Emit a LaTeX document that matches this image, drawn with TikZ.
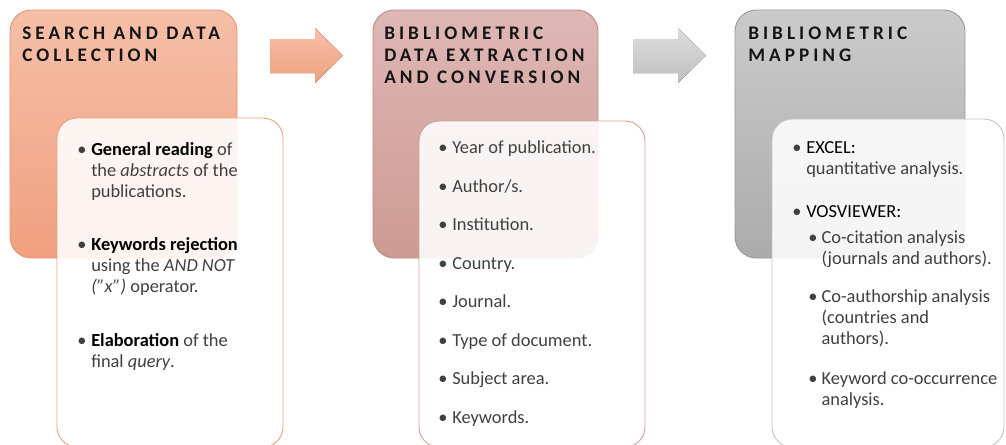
\documentclass[tikz,border=0pt]{standalone}
\usepackage{fontspec}
\usepackage{xcolor}
\usepackage{tikz}
\setmainfont{Carlito}
\newfontfamily\headfamily[LetterSpace=21]{Carlito}

\definecolor{salmonTop}{HTML}{F5BFA8}
\definecolor{salmonBot}{HTML}{F0A080}
\definecolor{salmonLine}{HTML}{E39476}
\definecolor{salmonPanel}{HTML}{EBA27F}
\definecolor{roseTop}{HTML}{DEB7B4}
\definecolor{roseBot}{HTML}{CD9A95}
\definecolor{roseLine}{HTML}{BE8C87}
\definecolor{rosePanel}{HTML}{D3A29D}
\definecolor{greyTop}{HTML}{CBCBCB}
\definecolor{greyBot}{HTML}{ABABAB}
\definecolor{greyLine}{HTML}{9A9A9A}
\definecolor{greyPanel}{HTML}{C4C4C4}
\definecolor{headInk}{HTML}{141414}
\definecolor{bodyInk}{HTML}{404040}

% bullet with hanging lines: #1 indent, #2 lines
\newcommand{\bul}[2]{\makebox[#1][l]{\textbullet}\parbox[t]{190pt}{\raggedright\leavevmode #2}}
\newcommand{\dark}[1]{{\color{black}#1}}

\begin{document}
\begin{tikzpicture}[
  x=0.75pt, y=-0.75pt,
  stage/.style={rounded corners=16pt, line width=0.7pt},
  panel/.style={rounded corners=15pt, fill=white, fill opacity=0.88, line width=0.7pt},
  title/.style={anchor=base west, inner sep=0pt, align=left, text=headInk,
    font=\headfamily\bfseries\fontsize{14.4}{16.5}\selectfont},
  item/.style={anchor=base west, inner sep=0pt, text=bodyInk,
    font=\fontsize{13.8}{16.1}\selectfont}
]
\useasboundingbox (0,0) rectangle (1006,444);
\clip (0,0) rectangle (1006,444);

% stage boxes
\draw[stage, draw=salmonLine, top color=salmonTop, bottom color=salmonBot] (10,10) rectangle (237,258);
\draw[stage, draw=roseLine, top color=roseTop, bottom color=roseBot] (373,10) rectangle (598,258);
\draw[stage, draw=greyLine, top color=greyTop, bottom color=greyBot] (735,10) rectangle (965,258);

% block arrows
\fill[top color=salmonTop, bottom color=salmonBot]
  (270,39) -- (315,39) -- (315,28) -- (343,55.5) -- (315,83) -- (315,73) -- (270,73) -- cycle;
\fill[top color=black!13, bottom color=black!25]
  (633,39) -- (678,39) -- (678,28) -- (706,55.5) -- (678,83) -- (678,73) -- (633,73) -- cycle;

% detail panels
\draw[panel, draw=salmonPanel] (57,118) rectangle (283,447);
\draw[panel, draw=rosePanel] (419,121) rectangle (645,447);
\draw[panel, draw=greyPanel] (772,119) rectangle (1004,447);

% titles (base = last line)
\node[title] (t1) at (22,61) {SEARCH AND DATA\\COLLECTION};
\node[title] (t2) at (384,83) {BIBLIOMETRIC\\DATA EXTRACTION\\AND CONVERSION};
\node[title] (t3) at (748,61) {BIBLIOMETRIC\\MAPPING};

% search and data collection
\node[item] (s1) at (77,155) {\bul{10.5pt}{\dark{\textbf{General reading}} of\\the \textit{abstracts} of the\\publications.}};
\node[item] (s2) at (77,250) {\bul{10.5pt}{\dark{\textbf{Keywords rejection}}\\using the \textit{AND NOT}\\\textit{(”x”)} operator.}};
\node[item] (s3) at (77,346) {\bul{10.5pt}{\dark{\textbf{Elaboration}} of the\\final \textit{query}.}};

% data extraction
\foreach \txt [count=\i] in {Year of publication., Author/s., Institution., Country., Journal.,
    Type of document., Subject area., Keywords.}
  \node[item] (d\i) at (438,{153.5+38.5*(\i-1)}) {\bul{10.5pt}{\txt}};

% mapping
\node[item] (m1) at (792,153) {\bul{10.5pt}{\dark{EXCEL:}\\quantitative analysis.}};
\node[item] (m2) at (792,217) {\bul{10.5pt}{\dark{VOSVIEWER:}}};
\node[item] (m3) at (808,243) {\bul{10pt}{Co-citation analysis\\(journals and authors).}};
\node[item] (m4) at (808,302) {\bul{10pt}{Co-authorship analysis\\(countries and\\authors).}};
\node[item] (m5) at (808,384) {\bul{10pt}{Keyword co-occurrence\\analysis.}};
\end{tikzpicture}
\end{document}
